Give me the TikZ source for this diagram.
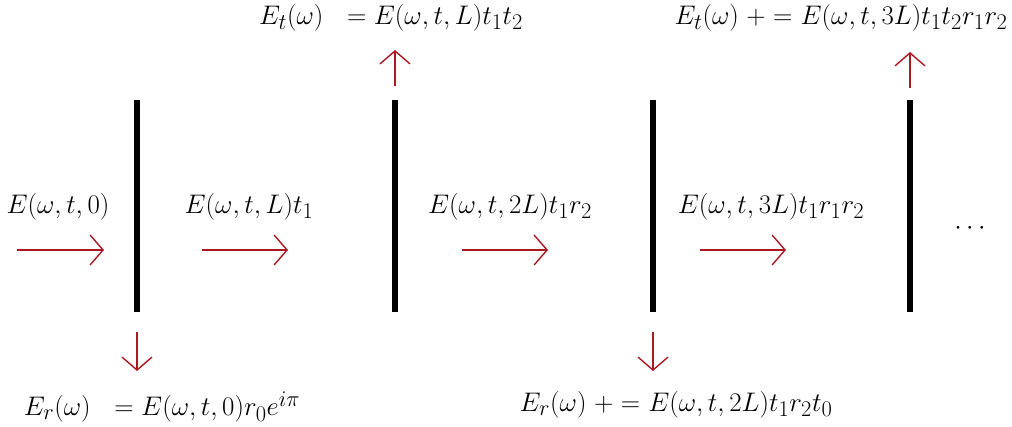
\documentclass[tikz,border=0pt]{standalone}
\usepackage{graphicx}
\usetikzlibrary{arrows.meta}
\definecolor{arrred}{RGB}{170,25,35}
\newcommand{\mylbl}[1]{\scalebox{1.08}{\Huge$#1$}}
\begin{document}
\begin{tikzpicture}[x=1pt,y=-1pt,
  bar/.style={line width=6pt,black},
  ray/.style={arrred,line width=1.4pt,-{Straight Barb[length=13pt,width=30pt,line width=1.4pt]}},
  lbl/.style={inner sep=0pt}]
\useasboundingbox (0,0) rectangle (1012,427);
% bars
\foreach \n/\x in {b1/137,b2/395,b3/653,b4/910}{
  \coordinate (\n t) at (\x,100);
  \coordinate (\n b) at (\x,312);
  \draw[bar] (\n t) -- (\n b);
}
% horizontal rays
\coordinate (h1s) at (17,250); \coordinate (h1e) at (104,250);
\coordinate (h2s) at (202,250); \coordinate (h2e) at (288,250);
\coordinate (h3s) at (462,250); \coordinate (h3e) at (548,250);
\coordinate (h4s) at (700,250); \coordinate (h4e) at (786,250);
\draw[ray] (h1s) -- (h1e);
\draw[ray] (h2s) -- (h2e);
\draw[ray] (h3s) -- (h3e);
\draw[ray] (h4s) -- (h4e);
% reflected / transmitted rays
\coordinate (r1s) at (137,332); \coordinate (r1e) at (137,371);
\coordinate (r2s) at (653,332); \coordinate (r2e) at (653,371);
\coordinate (t1s) at (395,86); \coordinate (t1e) at (395,50);
\coordinate (t2s) at (910,88); \coordinate (t2e) at (910,52);
\draw[ray] (r1s) -- (r1e);
\draw[ray] (r2s) -- (r2e);
\draw[ray] (t1s) -- (t1e);
\draw[ray] (t2s) -- (t2e);
% labels
\node[lbl] (l0) at (58,207) {\mylbl{E(\omega,t,0)}};
\node[lbl] (l1) at (249,207) {\mylbl{E(\omega,t,L)t_1}};
\node[lbl] (l2) at (510,207) {\mylbl{E(\omega,t,2L)t_1r_2}};
\node[lbl] (l3) at (771,207) {\mylbl{E(\omega,t,3L)t_1r_1r_2}};
\node[lbl] (dots) at (970,229) {\mylbl{\cdots}};
\node[lbl] (top1) at (391,18) {\mylbl{E_t(\omega)\ \ = E(\omega,t,L)t_1t_2}};
\node[lbl] (top2) at (841,18) {\mylbl{E_t(\omega) \mathrel{+}{=}\ E(\omega,t,3L)t_1t_2r_1r_2}};
\node[lbl] (bot1) at (162,407) {\mylbl{E_r(\omega)\ \ = E(\omega,t,0)r_0e^{i\pi}}};
\node[lbl] (bot2) at (676,405) {\mylbl{E_r(\omega) \mathrel{+}{=}\ E(\omega,t,2L)t_1r_2t_0}};
\end{tikzpicture}
\end{document}
